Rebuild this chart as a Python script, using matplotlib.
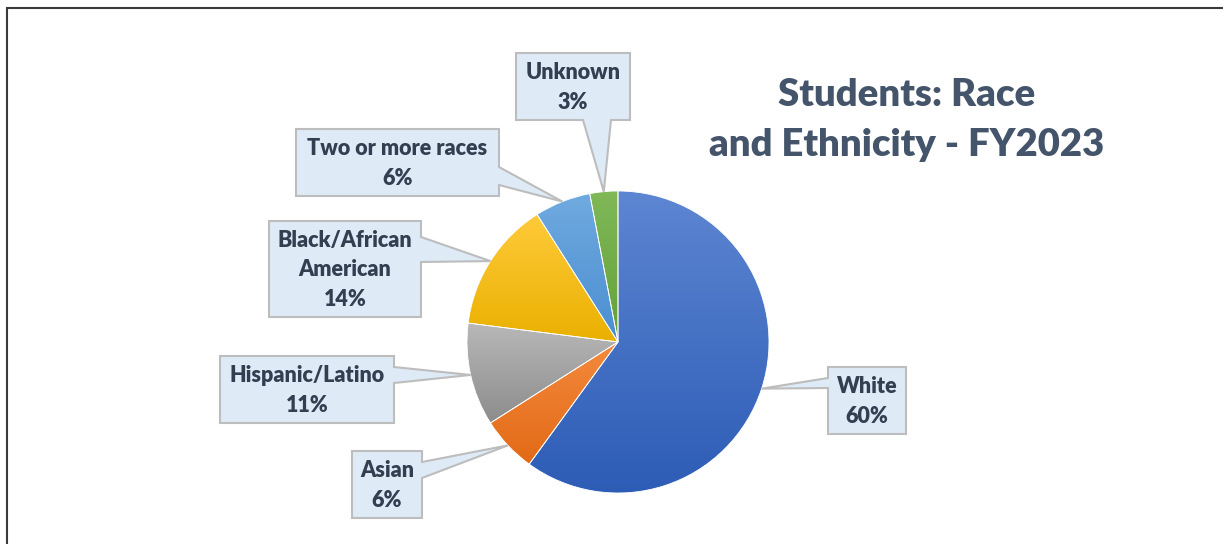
import numpy as np
import matplotlib.pyplot as plt
from matplotlib.path import Path
from matplotlib.patches import PathPatch
from matplotlib.colors import to_rgb

# data
groups = ['White', 'Asian', 'Hispanic/Latino', 'Black/African\nAmerican',
          'Two or more races', 'Unknown']
shares = [60, 6, 11, 14, 6, 3]
top_colors = ['#5D86D2', '#F48A3E', '#B8B8B8', '#FFCA3A', '#70AADF', '#80B858']
bottom_colors = ['#2D5CB6', '#E26A16', '#8C8C8C', '#EAB000', '#4B8ED2', '#63A139']

# callout layout in pixels (top-left origin): box x0, x1, y0, y1, side, base start, base end
callouts = [
    (828, 906, 367, 434, 'left', 378, 388),
    (352, 422, 451, 518, 'right', 462, 478),
    (220, 394, 356, 423, 'right', 367, 383),
    (269, 421, 221, 317, 'right', 237, 262),
    (296, 499, 129, 196, 'right', 167, 185),
    (516, 630, 53, 120, 'bottom', 583, 611),
]

W, H = 1223, 544
cx, cy, r = 618, 342, 151

plt.rcParams['font.family'] = ['Lato', 'DejaVu Sans']
fig = plt.figure(figsize=(W / 100, H / 100), dpi=100)
ax = fig.add_axes([0, 0, 1, 1])

wedges, _ = ax.pie(shares, startangle=90, counterclock=False,
                   center=(cx, H - cy), radius=r,
                   wedgeprops=dict(facecolor='none', edgecolor='white', linewidth=0.6, zorder=3))

# gradient fill for each slice
for w, c1, c2 in zip(wedges, top_colors, bottom_colors):
    pts = w.get_patch_transform().transform(w.get_path().vertices)
    t = np.linspace(0, 1, 200)[:, None]
    grad = (1 - t) * np.array(to_rgb(c1)) + t * np.array(to_rgb(c2))
    im = ax.imshow(grad[:, None, :], extent=(pts[:, 0].min(), pts[:, 0].max(),
                                           pts[:, 1].min(), pts[:, 1].max()),
                   origin='upper', aspect='auto', interpolation='bilinear', zorder=2)
    im.set_clip_path(w)

# callouts
for w, name, val, (x0, x1, y0, y1, side, b0, b1) in zip(wedges, groups, shares, callouts):
    mid = np.deg2rad((w.theta1 + w.theta2) / 2)
    tx, ty = cx + r * np.cos(mid), cy - r * np.sin(mid)
    if side == 'right':
        verts = [(x0, y0), (x1, y0), (x1, b0), (tx, ty), (x1, b1), (x1, y1), (x0, y1)]
    elif side == 'left':
        verts = [(x0, y0), (x1, y0), (x1, y1), (x0, y1), (x0, b1), (tx, ty), (x0, b0)]
    else:
        verts = [(x0, y0), (x1, y0), (x1, y1), (b1, y1), (tx, ty), (b0, y1), (x0, y1)]
    verts = [(x, H - y) for x, y in verts] + [(0, 0)]
    codes = [Path.MOVETO] + [Path.LINETO] * (len(verts) - 2) + [Path.CLOSEPOLY]
    ax.add_patch(PathPatch(Path(verts, codes), facecolor='#DEEBF7', edgecolor='#BDBDBD',
                           linewidth=1.5, joinstyle='miter', zorder=4))
    ax.text((x0 + x1) / 2, H - (y0 + y1) / 2 - 1, f'{name}\n{val}%', ha='center', va='center',
            fontsize=15.5, fontweight='heavy', color='#333F50', linespacing=1.5, zorder=5)

ax.text(907, H - 120, 'Students: Race\nand Ethnicity - FY2023', ha='center', va='center',
        fontsize=27.5, fontweight='heavy', color='#44546A', linespacing=1.55)

# outer frame (top and left only visible)
ax.plot([6, W], [H - 7.5, H - 7.5], color='#3A3A3A', lw=1.5, solid_capstyle='butt')
ax.plot([6.5, 6.5], [0, H - 7], color='#3A3A3A', lw=1.5, solid_capstyle='butt')

ax.set_xlim(0, W)
ax.set_ylim(0, H)
ax.set_aspect('auto')
ax.axis('off')

fig.savefig('out.png', dpi=100)
